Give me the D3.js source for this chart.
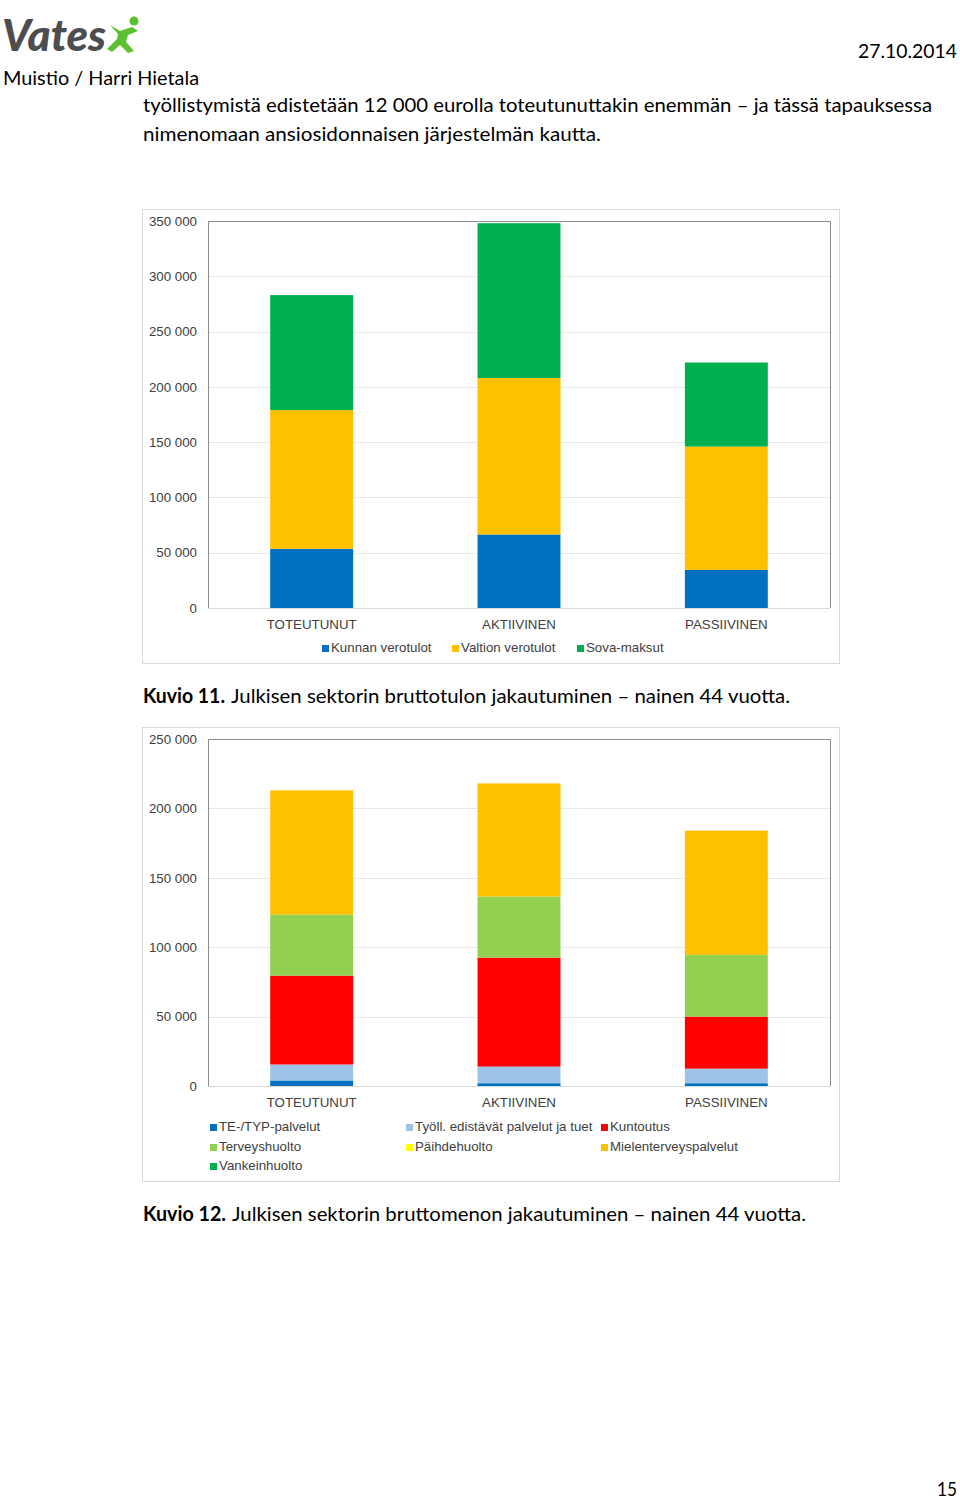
<!DOCTYPE html>
<html>
<head>
<meta charset="utf-8">
<script src="https://cdn.jsdelivr.net/npm/d3@7"></script>
<style>
  body { margin: 0; background: #fff; }
  svg { display: block; }
  .doc { font-family: Lato, "Open Sans", sans-serif; fill: #000; }
  .chart text { font-family: "Liberation Sans", Arial, sans-serif; fill: #404040; font-size: 13.3px; }
</style>
</head>
<body>
<svg id="svg"></svg>
<script>
// ---- data ----
const categories = ["TOTEUTUNUT", "AKTIIVINEN", "PASSIIVINEN"];

// Kuvio 11: bruttotulo
const incomeSeries = ["Kunnan verotulot", "Valtion verotulot", "Sova-maksut"];
const kunnanVerotulot = [53500, 66500, 34500];
const valtionVerotulot = [125500, 141500, 111500];
const sovaMaksut = [104000, 140000, 76000];
const incomeTicks = [0, 50000, 100000, 150000, 200000, 250000, 300000, 350000];

// Kuvio 12: bruttomeno
const expenseSeries = ["TE-/TYP-palvelut", "Työll. edistävät palvelut ja tuet", "Kuntoutus",
  "Terveyshuolto", "Päihdehuolto", "Mielenterveyspalvelut", "Vankeinhuolto"];
const tePalvelut = [4000, 2000, 2000];
const tyollPalvelut = [11500, 12000, 10500];
const kuntoutus = [64000, 78500, 37500];
const terveyshuolto = [44000, 44000, 44500];
const paihdehuolto = [0, 0, 0];
const mielenterveys = [89500, 81500, 89500];
const vankeinhuolto = [0, 0, 0];
const expenseTicks = [0, 50000, 100000, 150000, 200000, 250000];

const W = 960, H = 1501;
const svg = d3.select("#svg").attr("width", W).attr("height", H);

// text fitted to the width it has on the page
function docText(str, x, y, width, size, weight) {
  return svg.append("text")
    .attr("class", "doc")
    .attr("x", x).attr("y", y)
    .attr("font-size", size)
    .attr("font-weight", weight || "normal")
    .attr("textLength", width)
    .attr("lengthAdjust", "spacingAndGlyphs")
    .text(str);
}

// ---- page header ----
const logo = svg.append("g");
logo.append("text")
  .attr("x", 2).attr("y", 51)
  .attr("font-family", "Lato, sans-serif")
  .attr("font-weight", "900")
  .attr("font-style", "italic")
  .attr("font-size", 44)
  .attr("fill", "#4d4d4f")
  .attr("textLength", 104)
  .attr("lengthAdjust", "spacingAndGlyphs")
  .text("Vates");
// little green figure
logo.append("circle").attr("cx", 134).attr("cy", 21).attr("r", 4.5).attr("fill", "#5cc132");
logo.append("path")
  .attr("d", "M110,25 L120,31 L132,27 L138,31 L128,35 L126,42 L134,51 L128,53 L120,45 L112,52 L107,49 L117,39 L118,34 Z")
  .attr("fill", "#5cc132");

docText("27.10.2014", 858, 58, 99, 20);
docText("Muistio / Harri Hietala", 3, 85, 196, 20);
docText("työllistymistä edistetään 12 000 eurolla toteutunuttakin enemmän – ja tässä tapauksessa", 143, 112, 789, 20);
docText("nimenomaan ansiosidonnaisen järjestelmän kautta.", 143, 141, 458, 20);

docText("Kuvio 11.", 143, 703, 82, 20, "bold");
docText("Julkisen sektorin bruttotulon jakautuminen – nainen 44 vuotta.", 231, 703, 559, 20);
docText("Kuvio 12.", 143, 1221, 83, 20, "bold");
docText("Julkisen sektorin bruttomenon jakautuminen – nainen 44 vuotta.", 232, 1221, 574, 20);
docText("15", 937, 1496, 20, 20);

// ---- stacked bar chart ----
function drawChart(cfg) {
  const g = svg.append("g").attr("class", "chart");

  g.append("rect")
    .attr("x", cfg.box[0] + 0.5).attr("y", cfg.box[1] + 0.5)
    .attr("width", cfg.box[2]).attr("height", cfg.box[3])
    .attr("fill", "#fff").attr("stroke", "#d9d9d9");

  const x = d3.scaleBand().domain(categories)
    .range([cfg.plot.left, cfg.plot.right]).paddingInner(0.6).paddingOuter(0.3);
  const y = d3.scaleLinear().domain([0, d3.max(cfg.ticks)])
    .range([cfg.plot.bottom, cfg.plot.top]);

  // gridlines
  g.append("g").selectAll("line").data(cfg.ticks.slice(1, -1)).join("line")
    .attr("x1", cfg.plot.left).attr("x2", cfg.plot.right)
    .attr("y1", d => Math.round(y(d)) + 0.5).attr("y2", d => Math.round(y(d)) + 0.5)
    .attr("stroke", "#e8e8e8");

  // stacked bars
  const rows = categories.map((c, i) => {
    const r = { cat: c };
    cfg.series.forEach((s, k) => { r[s] = cfg.values[k][i]; });
    return r;
  });
  const stacked = d3.stack().keys(cfg.series)(rows);
  g.append("g").selectAll("g").data(stacked).join("g")
    .attr("fill", (d, k) => cfg.colors[k])
    .selectAll("rect").data(d => d).join("rect")
    .attr("x", d => x(d.data.cat))
    .attr("width", x.bandwidth())
    .attr("y", d => y(d[1]))
    .attr("height", d => y(d[0]) - y(d[1]));

  // plot frame
  g.append("line")
    .attr("x1", cfg.plot.left).attr("x2", cfg.plot.right)
    .attr("y1", cfg.plot.bottom + 0.5).attr("y2", cfg.plot.bottom + 0.5)
    .attr("stroke", "#d9d9d9");
  g.append("path")
    .attr("d", `M${cfg.plot.left + 0.5},${cfg.plot.bottom} V${cfg.plot.top + 0.5} H${cfg.plot.right + 0.5} V${cfg.plot.bottom}`)
    .attr("fill", "none").attr("stroke", "#8c8c8c");

  // y axis labels
  const yAxis = d3.axisLeft(y).tickValues(cfg.ticks).tickSize(0).tickPadding(11)
    .tickFormat(d => d3.format(",")(d).replace(/,/g, " "));
  const ya = g.append("g").attr("transform", `translate(${cfg.plot.left},0)`).call(yAxis);
  ya.select(".domain").remove();
  ya.selectAll("text").attr("font-size", 13).attr("fill", "#404040")
    .attr("font-family", "'Liberation Sans', Arial, sans-serif");

  // x axis labels
  const xAxis = d3.axisBottom(x).tickSize(0).tickPadding(12);
  const xa = g.append("g").attr("transform", `translate(0,${cfg.plot.bottom})`).call(xAxis);
  xa.select(".domain").remove();
  xa.selectAll("text").attr("font-size", 13.3).attr("fill", "#404040")
    .attr("font-family", "'Liberation Sans', Arial, sans-serif");

  // legend
  const lg = g.append("g").selectAll("g").data(cfg.series).join("g")
    .attr("transform", (d, k) => `translate(${cfg.legend[k][0]},${cfg.legend[k][1]})`);
  lg.append("rect").attr("x", 0).attr("y", -7).attr("width", 7).attr("height", 7)
    .attr("fill", (d, k) => cfg.colors[k]);
  lg.append("text").attr("x", 9).attr("y", 0).text(d => d);
}

drawChart({
  box: [142, 209, 697, 454],
  plot: { left: 208, right: 830, top: 221, bottom: 608 },
  ticks: incomeTicks,
  series: incomeSeries,
  values: [kunnanVerotulot, valtionVerotulot, sovaMaksut],
  colors: ["#0070c0", "#ffc000", "#00b050"],
  legend: [[322, 652], [452, 652], [577, 652]]
});

drawChart({
  box: [142, 727, 697, 454],
  plot: { left: 208, right: 830, top: 739, bottom: 1086 },
  ticks: expenseTicks,
  series: expenseSeries,
  values: [tePalvelut, tyollPalvelut, kuntoutus, terveyshuolto, paihdehuolto, mielenterveys, vankeinhuolto],
  colors: ["#0070c0", "#9dc3e6", "#ff0000", "#92d050", "#ffff00", "#ffc000", "#00b050"],
  legend: [[210, 1131], [406, 1131], [601, 1131], [210, 1151], [406, 1151], [601, 1151], [210, 1170]]
});
</script>
</body>
</html>
